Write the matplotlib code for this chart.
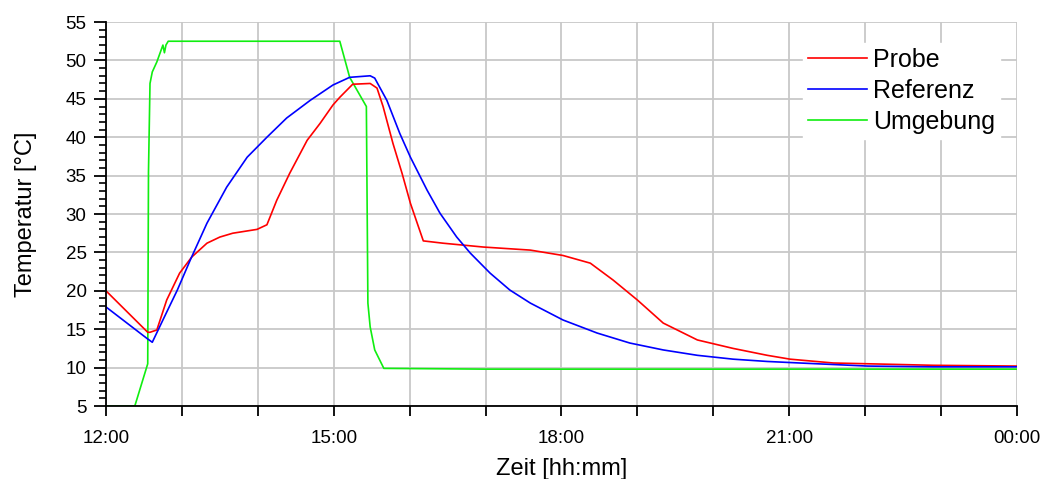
import numpy as np
from matplotlib import pyplot as plt
from matplotlib.ticker import MultipleLocator, FuncFormatter

plt.rcParams['font.family'] = ['Liberation Sans', 'DejaVu Sans']

# clock time in hours (12 = 12:00, 24 = 00:00)
t_probe = [12.00, 12.55, 12.58, 12.67, 12.80, 12.97, 13.13, 13.33, 13.50, 13.67,
           13.99, 14.12, 14.25, 14.42, 14.65, 14.82, 14.99, 15.08, 15.25, 15.48,
           15.57, 15.65, 15.78, 15.90, 16.01, 16.10, 16.18, 16.44, 16.97, 17.59,
           18.02, 18.38, 18.68, 19.00, 19.34, 19.79, 20.26, 20.71, 21.01, 21.58,
           22.03, 22.90, 24.00]
T_probe = [20.0, 14.6, 14.6, 14.9, 18.8, 22.3, 24.4, 26.2, 27.0, 27.5,
           28.0, 28.6, 31.8, 35.3, 39.6, 41.8, 44.2, 45.2, 46.9, 47.0,
           46.4, 44.0, 39.2, 35.3, 31.4, 28.8, 26.5, 26.2, 25.7, 25.3,
           24.6, 23.6, 21.4, 18.8, 15.8, 13.6, 12.5, 11.6, 11.1, 10.6,
           10.5, 10.3, 10.2]

t_ref = [12.00, 12.54, 12.61, 12.75, 12.94, 13.11, 13.33, 13.59, 13.86, 14.12,
         14.38, 14.69, 14.99, 15.21, 15.48, 15.54, 15.70, 15.87, 16.01, 16.23,
         16.40, 16.62, 16.80, 17.06, 17.32, 17.59, 18.02, 18.47, 18.90, 19.34,
         19.79, 20.26, 20.71, 21.14, 22.03, 22.90, 24.00]
T_ref = [17.9, 13.8, 13.3, 16.2, 20.1, 24.0, 28.8, 33.5, 37.4, 40.0,
         42.5, 44.8, 46.8, 47.8, 48.0, 47.7, 44.8, 40.5, 37.4, 33.1,
         30.1, 27.0, 24.9, 22.3, 20.1, 18.4, 16.2, 14.5, 13.2, 12.3,
         11.6, 11.1, 10.8, 10.6, 10.2, 10.1, 10.1]

t_umg = [12.00, 12.38, 12.55, 12.56, 12.58, 12.61, 12.67, 12.75, 12.77, 12.79,
         12.82, 15.08, 15.21, 15.43, 15.45, 15.48, 15.54, 15.66, 17.00, 19.00,
         21.00, 23.00, 24.00]
T_umg = [5.0, 5.0, 10.5, 35.5, 47.0, 48.5, 49.8, 52.0, 51.0, 52.0,
         52.5, 52.5, 47.8, 44.0, 18.4, 15.3, 12.3, 9.9, 9.8, 9.8,
         9.8, 9.8, 9.8]

fig = plt.figure(figsize=(10.42, 4.79), dpi=100)
ax = fig.add_axes([0.1017, 0.1524, 0.8743, 0.8016])

ax.plot(t_umg, T_umg, color='#10ee10', lw=1.2, label='Umgebung')
ax.plot(t_probe, T_probe, color='#ff0000', lw=1.2, label='Probe')
ax.plot(t_ref, T_ref, color='#0000ff', lw=1.2, label='Referenz')

ax.set_xlim(12, 24)
ax.set_ylim(5, 55)

ax.xaxis.set_major_locator(MultipleLocator(3))
ax.xaxis.set_minor_locator(MultipleLocator(1))
ax.xaxis.set_major_formatter(FuncFormatter(lambda v, p: '%02d:00' % (int(round(v)) % 24)))
ax.yaxis.set_major_locator(MultipleLocator(5))
ax.yaxis.set_minor_locator(MultipleLocator(1))

ax.grid(True, which='major', axis='y', color='#c8c8c8', lw=1.3)
ax.grid(True, which='both', axis='x', color='#c8c8c8', lw=1.3)
ax.set_axisbelow(True)

ax.tick_params(axis='x', which='both', direction='out', length=7, width=1.3, labelsize=13.5, pad=10)
ax.tick_params(axis='y', which='major', direction='out', length=9, width=1.3, labelsize=13.5, pad=5)
ax.tick_params(axis='y', which='minor', direction='out', length=5, width=1.2)

for s in ['top', 'right']:
    ax.spines[s].set_visible(False)
for s in ['left', 'bottom']:
    ax.spines[s].set_linewidth(1.3)

ax.set_xlabel('Zeit [hh:mm]', fontsize=17)
ax.set_ylabel('Temperatur [°C]', fontsize=17)
ax.xaxis.set_label_coords(0.5, -0.135)
ax.yaxis.set_label_coords(-0.0757, 0.5)

h, l = ax.get_legend_handles_labels()
order = [1, 2, 0]
leg = ax.legend([h[i] for i in order], [l[i] for i in order], loc='upper right',
                bbox_to_anchor=(0.981, 0.945), fontsize=18, handlelength=2.36,
                handletextpad=0.24, labelspacing=0.28, frameon=True, fancybox=False,
                framealpha=1, edgecolor='white', facecolor='white',
                borderpad=0.2, borderaxespad=0)

plt.savefig('out.png', dpi=100)
